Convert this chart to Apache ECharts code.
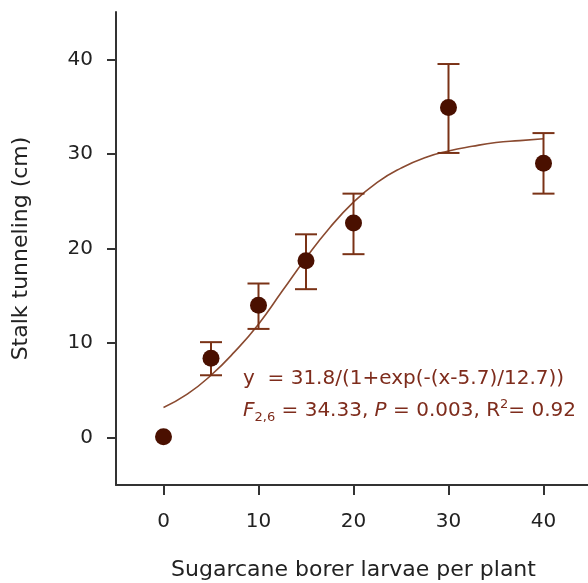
<!DOCTYPE html>
<html>
<head>
<meta charset="utf-8">
<script src="https://cdn.jsdelivr.net/npm/echarts@6/dist/echarts.min.js"></script>
<style>
  html, body { margin: 0; padding: 0; background: #fff; }
  #chart { width: 588px; height: 583px; }
</style>
</head>
<body>
<div id="chart"></div>
<script>
// larvae per plant vs. stalk tunneling (means with error bars)
const larvae = [0, 5, 10, 15, 20, 30, 40];
const tunneling = [0.1, 8.4, 14.0, 18.7, 22.7, 34.9, 29.0];
const errLow = [0.1, 6.6, 11.5, 15.7, 19.4, 30.1, 25.8];
const errHigh = [0.1, 10.1, 16.3, 21.5, 25.8, 39.5, 32.2];

// fitted curve
const fitX = [0, 2.5, 5, 7.5, 10, 12.5, 15, 17.5, 20, 22.5, 25, 27.5, 30, 32.5, 35, 37.5, 40];
const fitY = [3.2, 4.6, 6.6, 9.1, 12.0, 15.5, 19.0, 22.2, 24.9, 27.0, 28.5, 29.6, 30.3, 30.8, 31.2, 31.4, 31.6];

const yTicks = [0, 10, 20, 30, 40];
const xTicks = [0, 10, 20, 30, 40];

const axisColor = '#333';
const pointColor = '#4a1000';
const barColor = '#7a3216';
const textColor = '#7e2c1c';
const font = '"DejaVu Sans", sans-serif';

const chart = echarts.init(document.getElementById('chart'));

const option = {
    animation: false,
    grid: {
        left: 116,
        top: 12,
        width: 475,
        height: 473,
        outerBoundsMode: 'none',
    },
    xAxis: {
        type: 'value',
        min: -5,
        max: 45,
        name: 'Sugarcane borer larvae per plant',
        nameLocation: 'middle',
        nameGap: 74,
        nameTextStyle: { fontFamily: font, fontSize: 22, color: '#222' },
        splitLine: { show: false },
        axisLine: { onZero: false, lineStyle: { color: axisColor, width: 2 } },
        axisTick: { customValues: xTicks, length: 10, lineStyle: { color: axisColor, width: 2 } },
        axisLabel: { customValues: xTicks, margin: 27, fontFamily: font, fontSize: 20, color: '#222' },
    },
    yAxis: {
        type: 'value',
        min: -5,
        max: 45,
        name: 'Stalk tunneling (cm)',
        nameLocation: 'middle',
        nameGap: 84,
        nameTextStyle: { fontFamily: font, fontSize: 22, color: '#222' },
        splitLine: { show: false },
        axisLine: { show: true, onZero: false, lineStyle: { color: axisColor, width: 2 } },
        axisTick: { show: true, customValues: yTicks, length: 9, lineStyle: { color: axisColor, width: 2 } },
        axisLabel: { customValues: yTicks, margin: 23, fontFamily: font, fontSize: 20, color: '#222' },
    },
    series: [
        {
            name: 'fit',
            type: 'line',
            data: fitX.map((x, i) => [x, fitY[i]]),
            smooth: true,
            showSymbol: false,
            lineStyle: { color: '#8a4a30', width: 1.6 },
            z: 2,
        },
        {
            name: 'error',
            type: 'custom',
            data: larvae.map((x, i) => [x, errLow[i], errHigh[i]]),
            renderItem: (params, api) => {
                const x = api.value(0);
                const lo = api.coord([x, api.value(1)]);
                const hi = api.coord([x, api.value(2)]);
                if (Math.abs(lo[1] - hi[1]) < 1) return null;
                const half = 11;
                const style = { stroke: barColor, lineWidth: 2 };
                return {
                    type: 'group',
                    children: [
                        { type: 'line', shape: { x1: hi[0], y1: hi[1], x2: lo[0], y2: lo[1] }, style },
                        { type: 'line', shape: { x1: hi[0] - half, y1: hi[1], x2: hi[0] + half, y2: hi[1] }, style },
                        { type: 'line', shape: { x1: lo[0] - half, y1: lo[1], x2: lo[0] + half, y2: lo[1] }, style },
                    ],
                };
            },
            z: 3,
        },
        {
            name: 'mean',
            type: 'scatter',
            data: larvae.map((x, i) => [x, tunneling[i]]),
            symbol: 'circle',
            symbolSize: 17,
            itemStyle: { color: pointColor, opacity: 1 },
            z: 4,
        },
    ],
    graphic: [
        {
            type: 'text',
            left: 243,
            top: 369,
            style: {
                text: 'y  = 31.8/(1+exp(-(x-5.7)/12.7))',
                fontFamily: font,
                fontSize: 20,
                fill: textColor,
            },
        },
        {
            type: 'text',
            left: 243,
            top: 398,
            style: {
                text: '{i|F}{sub|2,6}{n| = 34.33, }{i|P}{n| = 0.003, R}{sup|2}{n|= 0.92}',
                fontFamily: font,
                fontSize: 20,
                fill: textColor,
                rich: {
                    n: { fontFamily: font, fontSize: 20, fill: textColor, lineHeight: 26, verticalAlign: 'middle' },
                    i: { fontFamily: font, fontSize: 20, fontStyle: 'italic', fill: textColor, lineHeight: 26, verticalAlign: 'middle' },
                    sub: { fontFamily: font, fontSize: 13, fill: textColor, lineHeight: 26, verticalAlign: 'bottom' },
                    sup: { fontFamily: font, fontSize: 13, fill: textColor, lineHeight: 26, verticalAlign: 'top' },
                },
            },
        },
    ],
};

chart.setOption(option);
</script>
</body>
</html>
